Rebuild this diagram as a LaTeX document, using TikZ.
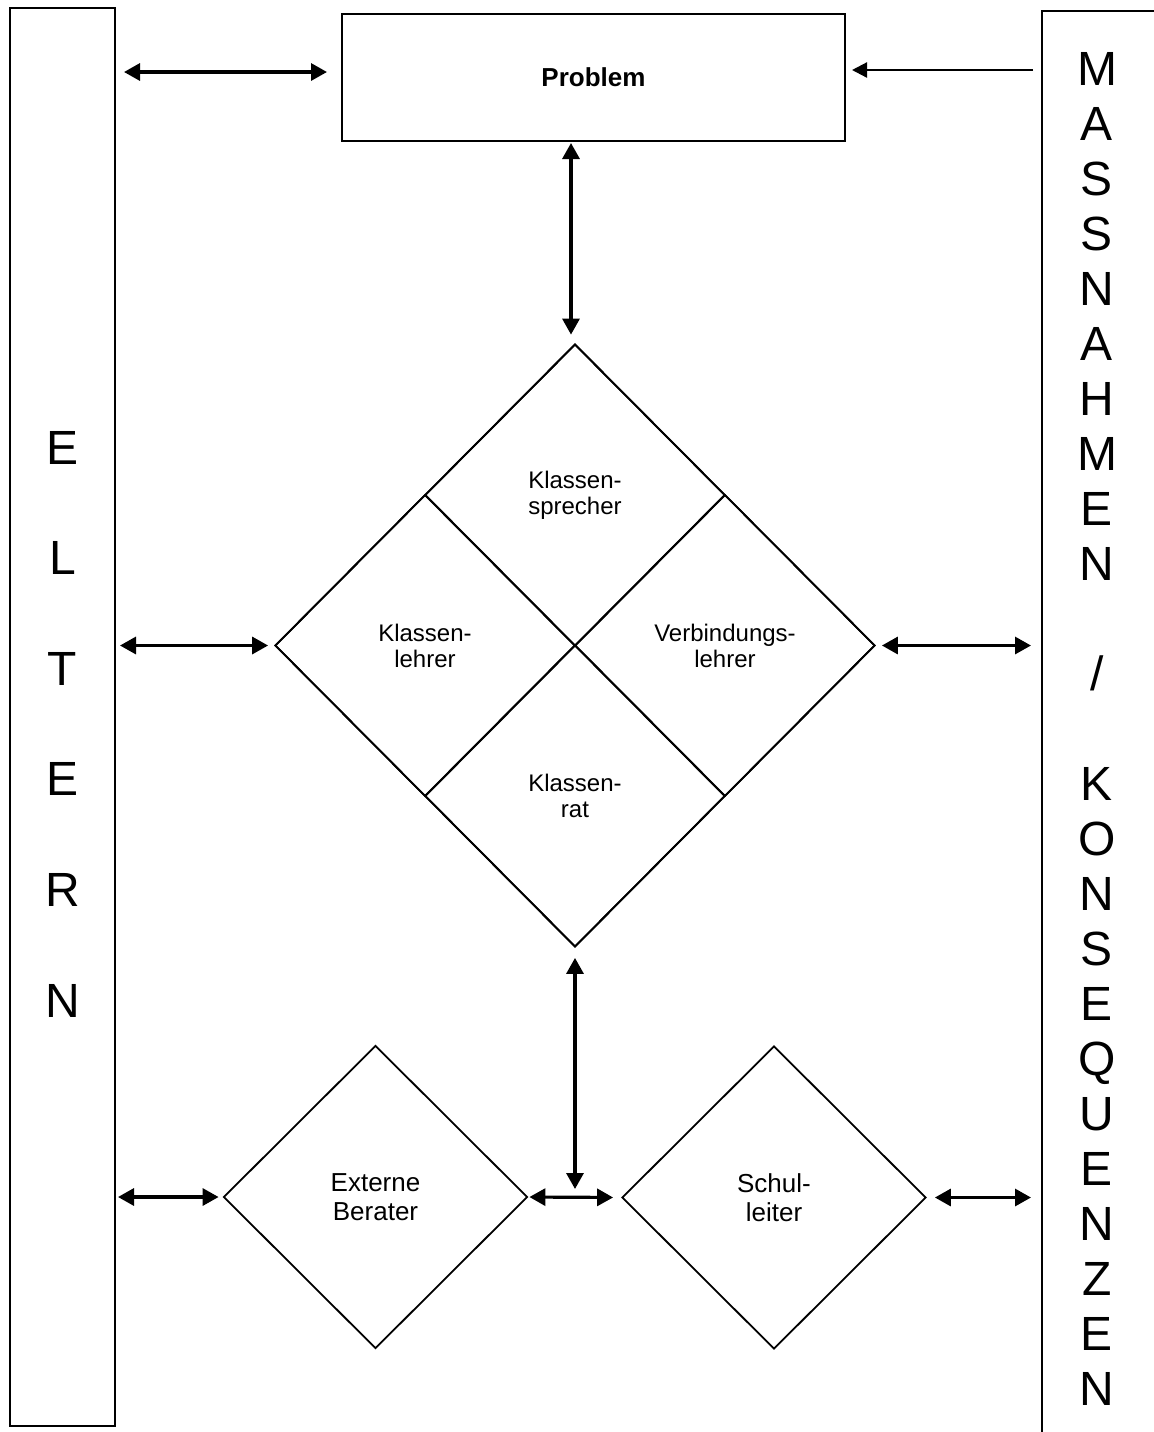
\documentclass[tikz,border=0pt]{standalone}
\usepackage{fontspec}
\setmainfont{Liberation Sans}
\usetikzlibrary{arrows.meta,shapes.geometric}
\begin{document}
\begin{tikzpicture}[x=0.5pt,y=-0.5pt,
  box/.style={draw,line width=1pt,rectangle,inner sep=0pt},
  dia/.style={draw,line width=0.9pt,diamond,inner sep=0pt,align=center,font=\fontsize{12pt}{13pt}\selectfont},
  dib/.style={dia,font=\fontsize{13pt}{14.5pt}\selectfont},
  arr/.style={line width=1.6pt,{Triangle[length=8pt,width=8.5pt]}-{Triangle[length=8pt,width=8.5pt]}},
  arrone/.style={line width=1.1pt,-{Triangle[length=7.5pt,width=7.5pt]}},
  bigletter/.style={font=\fontsize{24pt}{27.5pt}\selectfont,anchor=base,inner sep=0pt}
]
\useasboundingbox (0,0) rectangle (1154,1432);
\clip (0,0) rectangle (1154,1432);

% side bars
\node[box,minimum width=52.5pt,minimum height=709pt] (eltern) at (62.5,717) {};
\node[box,minimum width=150pt,minimum height=800pt,anchor=north west] (massn) at (1041,10) {};

% problem box
\node[box,minimum width=251.5pt,minimum height=63.5pt,font=\bfseries\fontsize{13pt}{15pt}\selectfont] (problem) at (593.5,77.5) {Problem};

% big diamond and its four parts
\node[dia,minimum width=300pt,minimum height=301.5pt] (big) at (575,645.5) {};
\node[dia,minimum width=150pt,minimum height=150.75pt] (ksp) at (575,495) {Klassen-\\sprecher};
\node[dia,minimum width=150pt,minimum height=150.75pt] (kle) at (425,645.5) {Klassen-\\lehrer};
\node[dia,minimum width=150pt,minimum height=150.75pt] (vle) at (725,645.5) {Verbindungs-\\lehrer};
\node[dia,minimum width=150pt,minimum height=150.75pt] (kra) at (575,796) {Klassen-\\rat};

% lower diamonds
\node[dib,minimum width=152pt,minimum height=151.5pt] (ext) at (375.5,1197) {Externe\\Berater};
\node[dib,minimum width=152pt,minimum height=151.5pt] (sch) at (774,1197.5) {Schul-\\leiter};
\coordinate (mid) at (575,1197);

% connectors
\draw[arr,shorten <=4pt,shorten >=7pt] (eltern.east |- 0,72) -- (problem.west |- 0,72);
\draw[arrone,shorten <=4pt,shorten >=3pt] (massn.west |- 0,70) -- (problem.east |- 0,70);
\draw[arr,shorten <=0.5pt,shorten >=4.25pt] (problem.south -| 571,0) -- (big.north -| 571,0);
\draw[arr,shorten <=2pt,shorten >=3pt] (eltern.east |- big.west) -- (big.west);
\draw[arr,shorten <=3pt,shorten >=5pt] (big.east) -- (massn.west |- big.east);
\draw[arr,shorten <=5pt,shorten >=4pt] (big.south) -- (mid);
\draw[arr,shorten <=1pt,shorten >=2pt] (eltern.east |- ext.west) -- (ext.west);
\draw[arr,shorten <=0.5pt,shorten >=4pt] (ext.east) -- (sch.west);
\draw[arr,shorten <=4pt,shorten >=5pt] (sch.east) -- (massn.west |- sch.east);

% vertical texts
\foreach \c [count=\k from 0] in {E,L,T,E,R,N}
  \node[bigletter] (el\k) at (62.5,{464+110.6*\k}) {\c};
\foreach \i/\c in {0/M,1/A,2/S,3/S,4/N,5/A,6/H,7/M,8/E,9/N,11/\slash,13/K,14/O,15/N,16/S,17/E,18/Q,19/U,20/E,21/N,22/Z,23/E,24/N}
  \node[bigletter] (mk\i) at (1097,{85+55*\i}) {\c};
\end{tikzpicture}
\end{document}
